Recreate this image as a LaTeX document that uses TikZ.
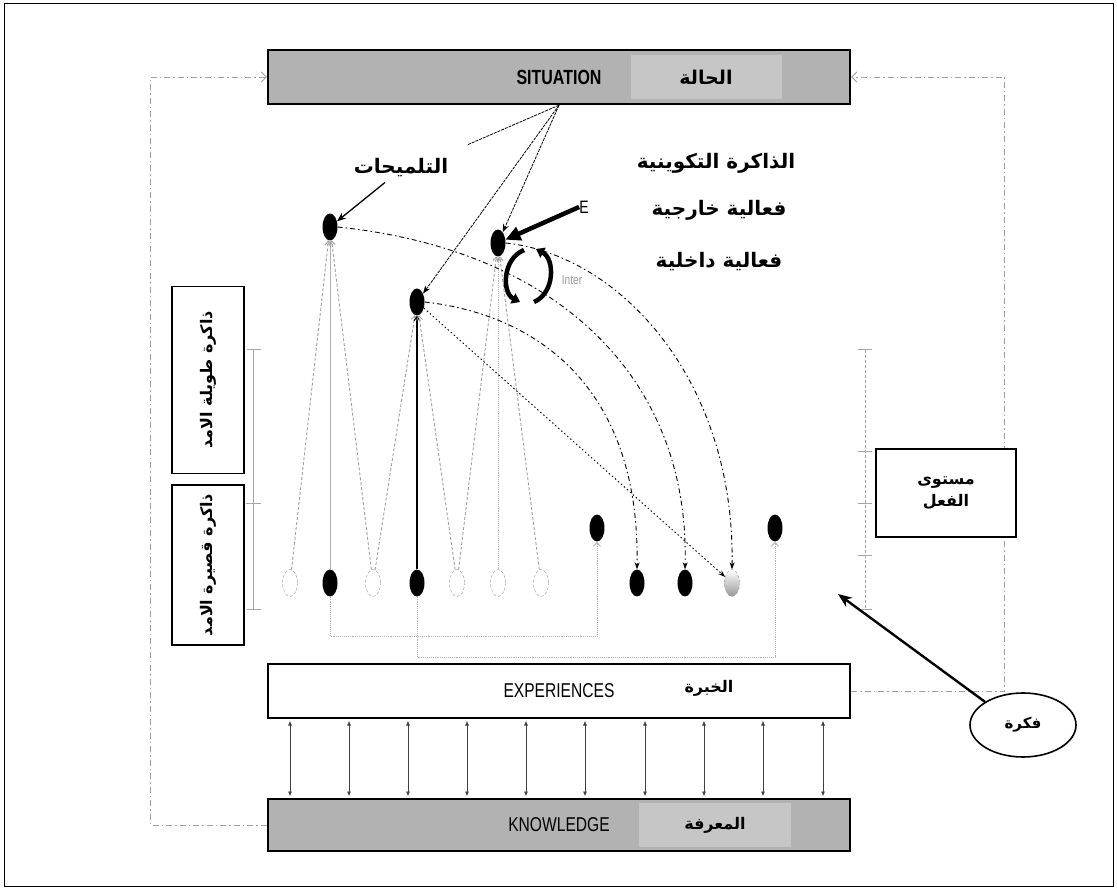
\documentclass[tikz,border=0pt]{standalone}
\usepackage{fontspec}
\setmainfont{Liberation Sans}
\newfontfamily\arabicfont[Script=Arabic]{DejaVu Sans}
\newfontfamily\narrowfont[FakeStretch=0.78]{Liberation Sans}
\TeXXeTstate=1
\usetikzlibrary{shapes.geometric,arrows.meta}
\definecolor{barfill}{RGB}{178,178,178}
\definecolor{barlight}{RGB}{198,198,198}
\newcommand{\artext}[1]{{\arabicfont\bfseries\beginR#1\endR}}

\begin{document}
\begin{tikzpicture}[x=1pt,y=-1pt,
  bar/.style={draw=black, line width=2.4pt, minimum width=582pt, minimum height=54pt, inner sep=0pt,
    font=\narrowfont\fontsize{20}{22}\selectfont},
  arlabel/.style={inner sep=1pt, font=\fontsize{16}{20}\selectfont},
  toplabel/.style={inner sep=1pt, font=\fontsize{20}{24}\selectfont},
  membox/.style={draw=black, line width=1.8pt, fill=white, minimum height=72pt, inner sep=0pt,
    font=\fontsize{16}{22}\selectfont},
  filled/.style={ellipse, fill=black, minimum width=15pt, minimum height=27pt, inner sep=0pt},
  hollow/.style={ellipse, draw=gray!80, densely dashed, fill=white, minimum width=15pt, minimum height=27pt, inner sep=0pt},
  loopline/.style={draw=gray!75, line width=0.9pt, dash pattern=on 6pt off 3pt on 1.5pt off 3pt},
  feed/.style={draw=gray!75, line width=0.9pt, densely dashed, -{Straight Barb[length=4pt,width=6pt]}},
  sitline/.style={line width=0.8pt, dash pattern=on 3pt off 1pt},
  recall/.style={line width=0.9pt, dash pattern=on 5pt off 3pt on 1.5pt off 3pt, -{Stealth[length=7pt,width=5pt]}},
  link/.style={draw=gray!60, line width=0.9pt, densely dotted, -{Straight Barb[length=4pt,width=7pt]}},
  biarrow/.style={draw=black!75, line width=0.9pt, shorten <=1.3pt, shorten >=1.3pt,
    {Latex[length=5pt,width=4pt]}-{Latex[length=5pt,width=4pt]}},
  cycle/.style={line width=4.5pt, -{Triangle[length=8pt,width=11pt]}}
]
\useasboundingbox (0,0) rectangle (1117,890);
\draw[line width=1pt] (4,4) rectangle (1113,886);

% the three bars
\node[bar, fill=barfill, font=\narrowfont\bfseries\fontsize{20.5}{22}\selectfont] (sit) at (559,77) {SITUATION};
\node[arlabel, fill=barlight, minimum width=151pt, minimum height=44pt, font=\fontsize{19}{22}\selectfont] (sitar) at (706,77) {\artext{الحالة}};
\node[bar, fill=white] (exp) at (559,691) {EXPERIENCES};
\node[arlabel] (expar) at (709,688) {\artext{الخبرة}};
\node[bar, fill=barfill, minimum height=52pt] (know) at (559,825) {KNOWLEDGE};
\node[arlabel, fill=barlight, minimum width=152pt, minimum height=44pt] (knowar) at (715,825) {\artext{المعرفة}};

% outer loops
\draw[loopline, -{Straight Barb[length=5pt,width=10pt]}] (know.west) -- ++(-116,0) |- (sit.west);
\draw[loopline, -{Straight Barb[length=5pt,width=10pt]}] (exp.east) -- ++(153,0) |- (sit.east);

% links between experiences and knowledge
\draw[biarrow] (exp.south -| 290,0) -- (know.north -| 290,0);
\draw[biarrow] (exp.south -| 349,0) -- (know.north -| 349,0);
\draw[biarrow] (exp.south -| 408,0) -- (know.north -| 408,0);
\draw[biarrow] (exp.south -| 467,0) -- (know.north -| 467,0);
\draw[biarrow] (exp.south -| 526,0) -- (know.north -| 526,0);
\draw[biarrow] (exp.south -| 585,0) -- (know.north -| 585,0);
\draw[biarrow] (exp.south -| 645,0) -- (know.north -| 645,0);
\draw[biarrow] (exp.south -| 704,0) -- (know.north -| 704,0);
\draw[biarrow] (exp.south -| 763,0) -- (know.north -| 763,0);
\draw[biarrow] (exp.south -| 823,0) -- (know.north -| 823,0);

% scales
\draw[gray!70, line width=1pt] (253,350) -- (253,609);
\draw[gray!70, line width=1pt] (247,350) -- (261,350) (246,503) -- (261,503) (247,609) -- (261,609);
\draw[gray!70, line width=1pt, densely dashed] (865,350) -- (865,609);
\draw[gray!70, line width=1pt] (858,350) -- (872,350) (858,452) -- (872,452) (858,503) -- (872,503)
  (858,555) -- (872,555) (858,609) -- (872,609);

% side boxes
\node[membox, rotate=90, minimum width=187pt] (ltm) at (208,380) {\artext{ذاكرة طويلة الامد}};
\node[membox, rotate=90, minimum width=160pt] (stm) at (208,565) {\artext{ذاكرة قصيرة الامد}};
\node[membox, minimum width=140pt, minimum height=88pt, align=center] (act) at (946,493) {\artext{مستوى}\\\artext{الفعل}};
\node[ellipse, draw, line width=1.6pt, fill=white, minimum width=106pt, minimum height=64pt,
  font=\fontsize{15}{20}\selectfont] (idea) at (1023,725) {\artext{فكرة}};
\coordinate (ptr) at (838,594);
\draw[line width=2.4pt, -{Stealth[length=14pt,width=11pt]}] (idea.north west) -- (ptr);

% labels
\node[toplabel] (cuelbl) at (401,168) {\artext{التلميحات}};
\node[toplabel] (memlbl) at (716,163) {\artext{الذاكرة التكوينية}};
\node[toplabel] (extlbl) at (719,210) {\artext{فعالية خارجية}};
\node[toplabel] (intlbl) at (719,262) {\artext{فعالية داخلية}};

% memory nodes
\node[filled] (cue) at (330,227) {};
\node[filled] (ni) at (417,302) {};
\node[filled] (ne) at (498,243) {};
\node[hollow] (o1) at (290,583) {};
\node[filled] (b1) at (330,583) {};
\node[hollow] (o2) at (373,583) {};
\node[filled] (b2) at (417,583) {};
\node[hollow] (o3) at (457,583) {};
\node[hollow] (o4) at (498,583) {};
\node[hollow] (o5) at (541,583) {};
\node[filled] (r1) at (637,583) {};
\node[filled] (r2) at (685,583) {};
\node[hollow, top color=white, bottom color=gray!80] (r3) at (732,583) {};
\node[filled] (u1) at (597,528) {};
\node[filled] (u2) at (775,528) {};

% cues from the row
\draw[feed] (o1) -- (cue);
\draw[feed, solid, draw=gray!60] (b1) -- (cue);
\draw[feed] (o2) -- (cue);
\draw[feed] (o2) -- (ni);
\draw[feed, solid, draw=black, line width=1.2pt] (b2) -- (ni);
\draw[feed] (o3) -- (ni);
\draw[feed] (o3) -- (ne);
\draw[feed, densely dotted, draw=gray!55] (o4) -- (ne);
\draw[feed] (o5) -- (ne);

% from the situation
\coordinate (cuetip) at (467,145);
\draw[sitline] (sit.south) -- (cuetip);
\draw[sitline, -{Stealth[length=8pt,width=6pt]}] (sit.south) -- (ni);
\draw[sitline, -{Stealth[length=8pt,width=6pt]}] (sit.south) -- (ne);
\draw[line width=1.3pt, -{Stealth[length=9pt,width=7pt]}] ([xshift=-16pt,yshift=-4pt]cuelbl.south) -- (cue);

% external and internal activity
\node[font=\narrowfont\fontsize{18}{20}\selectfont, inner sep=0pt] (elbl) at (584,207) {E};
\draw[line width=4.5pt, -{Triangle[length=15pt,width=14pt]}] (elbl.west) -- (ne);
\node[font=\narrowfont\fontsize{13}{14}\selectfont, text=gray!80] (inter) at (572,280) {Inter};
\draw[cycle] (524,250) .. controls (502,259) and (502,293) .. (520,302);
\draw[cycle] (534,302) .. controls (555,293) and (555,259) .. (536,249);

% recall paths
\draw[recall] (cue.east) .. controls (560,250) and (690,380) .. (r2.north);
\draw[recall] (ni.east) .. controls (540,315) and (640,390) .. (r1.north);
\draw[recall] (ne.east) .. controls (620,255) and (735,380) .. (r3.north);
\draw[recall, dash pattern=on 1.5pt off 2.5pt] (ni) -- (r3);

% links to the action level
\draw[link] (b1.south) -- (b1.south |- 0,636) -| (u1.south);
\draw[link] (b2.south) -- (b2.south |- 0,657) -| (u2.south);
\end{tikzpicture}
\end{document}
